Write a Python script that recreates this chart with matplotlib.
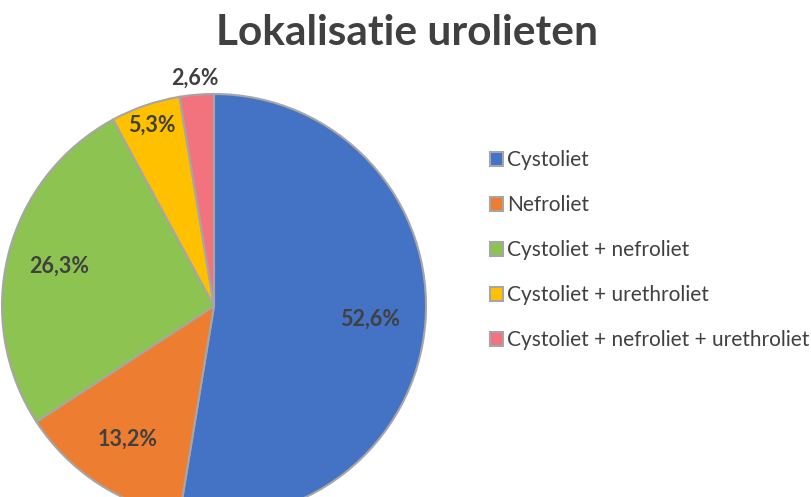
import matplotlib.pyplot as plt
import numpy as np

title = 'Lokalisatie urolieten'
categories = ['Cystoliet', 'Nefroliet', 'Cystoliet + nefroliet',
              'Cystoliet + urethroliet', 'Cystoliet + nefroliet + urethroliet']
percentages = [52.6, 13.2, 26.3, 5.3, 2.6]
colors = ['#4472C4', '#ED7D31', '#8DC350', '#FFC000', '#F2737E']

plt.rcParams['font.family'] = ['Lato', 'DejaVu Sans']
text_color = '#404040'

fig = plt.figure(figsize=(8.11, 4.97), dpi=100)
ax = fig.add_axes([0, 0, 1, 1])

cx, cy, r = 214, 497 - 306, 212
wedges, texts, autotexts = ax.pie(
    percentages, colors=colors, startangle=90, counterclock=False,
    center=(cx, cy), radius=r,
    autopct=lambda p: f'{p:.1f}%'.replace('.', ','),
    wedgeprops=dict(edgecolor='#A6A6A6', linewidth=1.5),
    textprops=dict(color=text_color, fontsize=15.5, fontweight='bold'))

# label distance per slice (relative to radius)
label_dist = [0.74, 0.75, 0.755, 0.90, 1.08]
for w, t, d in zip(wedges, autotexts, label_dist):
    a = np.deg2rad((w.theta1 + w.theta2) / 2)
    t.set_position((cx + d * r * np.cos(a), cy + d * r * np.sin(a)))
    t.set_ha('center')
    t.set_va('center')

ax.set_xlim(0, 811)
ax.set_ylim(0, 497)
ax.set_aspect('equal')
ax.axis('off')

fig.text(407 / 811, 1 - 33 / 497, title, ha='center', va='center',
         fontsize=30.5, fontweight='bold', color=text_color)

leg = ax.legend(wedges, categories, loc='upper left',
                bbox_to_anchor=(482 / 811, 1 - 142 / 497), frameon=False,
                fontsize=15, handlelength=0.6, handleheight=0.6,
                handletextpad=0.2, labelspacing=1.2, borderaxespad=0)
for t in leg.get_texts():
    t.set_color(text_color)
for h in leg.legend_handles:
    h.set_edgecolor('#A6A6A6')

fig.savefig('out.png', dpi=100)
